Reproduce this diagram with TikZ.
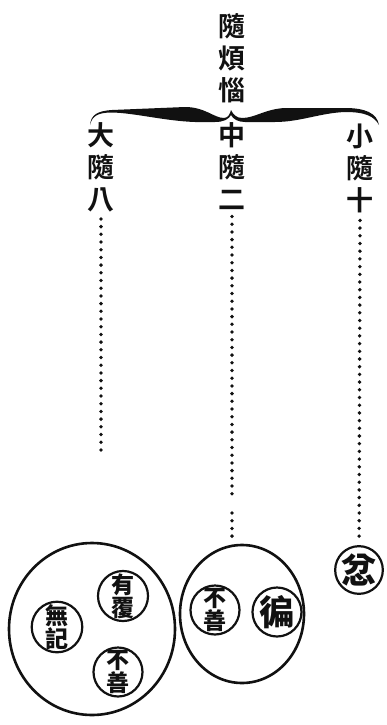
\documentclass[tikz,border=0pt]{standalone}
\usepackage{fontspec}
\usepackage{tikz}
\usetikzlibrary{shapes.geometric,positioning,calc}
\newfontfamily\cjk{Noto Sans CJK TC Bold}
\newfontfamily\cjkheavy{Noto Sans CJK TC Black}
\definecolor{cInk}{HTML}{111111}
\tikzset{
  vlab/.style={anchor=north,align=center,inner sep=0pt,text=cInk,
      font=\cjk\fontsize{27}{32}\selectfont},
  dotline/.style={draw=cInk,line width=3.8pt,line cap=round,
      dash pattern=on 0pt off 7.7pt},
  bigring/.style={draw=cInk,ellipse,line width=2.6pt,inner sep=0pt},
  seal/.style={draw=cInk,circle,line width=2.2pt,inner sep=0pt,minimum size=49pt,
      align=center,text=cInk,font=\cjkheavy\fontsize{23}{21}\selectfont},
  sealone/.style={seal,font=\cjkheavy\fontsize{35}{35}\selectfont},
}
\begin{document}
\begin{tikzpicture}[x=1pt,y=1pt]
  \useasboundingbox (0,0) rectangle (387,-725);

  % heading and brace
  \node[vlab] (title) at (232,-13) {隨\\煩\\惱};
  \fill[cInk] (90,-125) .. controls (91,-115) and (97,-111) .. (112,-110)
    -- (185,-107) .. controls (205,-107) and (214,-118) .. (224,-118)
    .. controls (228,-118) and (230,-114) .. (231,-110)
    .. controls (233,-114) and (236,-118) .. (242,-118)
    .. controls (255,-118) and (265,-109) .. (285,-108)
    -- (345,-108) .. controls (365,-108) and (377,-113) .. (379,-125)
    .. controls (374,-116) and (365,-112) .. (345,-112)
    .. controls (320,-113) and (300,-122) .. (275,-122)
    -- (245,-122) .. controls (238,-122) and (233,-119) .. (231,-115)
    .. controls (229,-119) and (224,-122) .. (215,-122)
    -- (195,-122) .. controls (165,-121) and (135,-113) .. (112,-112.5)
    .. controls (98,-112.5) and (92,-116) .. (90,-125) -- cycle;

  \node[vlab] (big) at (101,-122) {大\\隨\\八};
  \node[vlab] (mid) at (232,-122) {中\\隨\\二};
  \node[vlab] (small) at (360,-124) {小\\隨\\十};

  % rings
  \node[bigring,minimum width=166pt,minimum height=172pt] (bigc) at (92,-629) {};
  \node[bigring,minimum width=124pt,minimum height=138pt] (midc) at (242,-614) {};
  \node[seal] (youfu) at (123,-596) {有\\覆};
  \node[seal] (wuji) at (57,-627) {無\\記};
  \node[seal] (bushan) at (118,-672) {不\\善};
  \node[seal] (bushanb) at (215,-610) {不\\善};
  \node[sealone] (bian) at (277,-612) {徧};
  \node[sealone,minimum size=46pt] (fen) at (359,-570) {忿};

  % dotted leads
  \coordinate (bigend) at (101,-457);
  \coordinate (gapA) at (232,-497);
  \coordinate (gapB) at (232,-513);
  \draw[dotline] ([yshift=-7pt]big.south) -- (bigend);
  \draw[dotline] ([yshift=-7pt]mid.south) -- (gapA);
  \draw[dotline,shorten >=5pt] (gapB) -- (midc.north -| gapB);
  \draw[dotline,shorten >=4pt] ([yshift=-7pt]small.south) -- (fen);
\end{tikzpicture}
\end{document}
